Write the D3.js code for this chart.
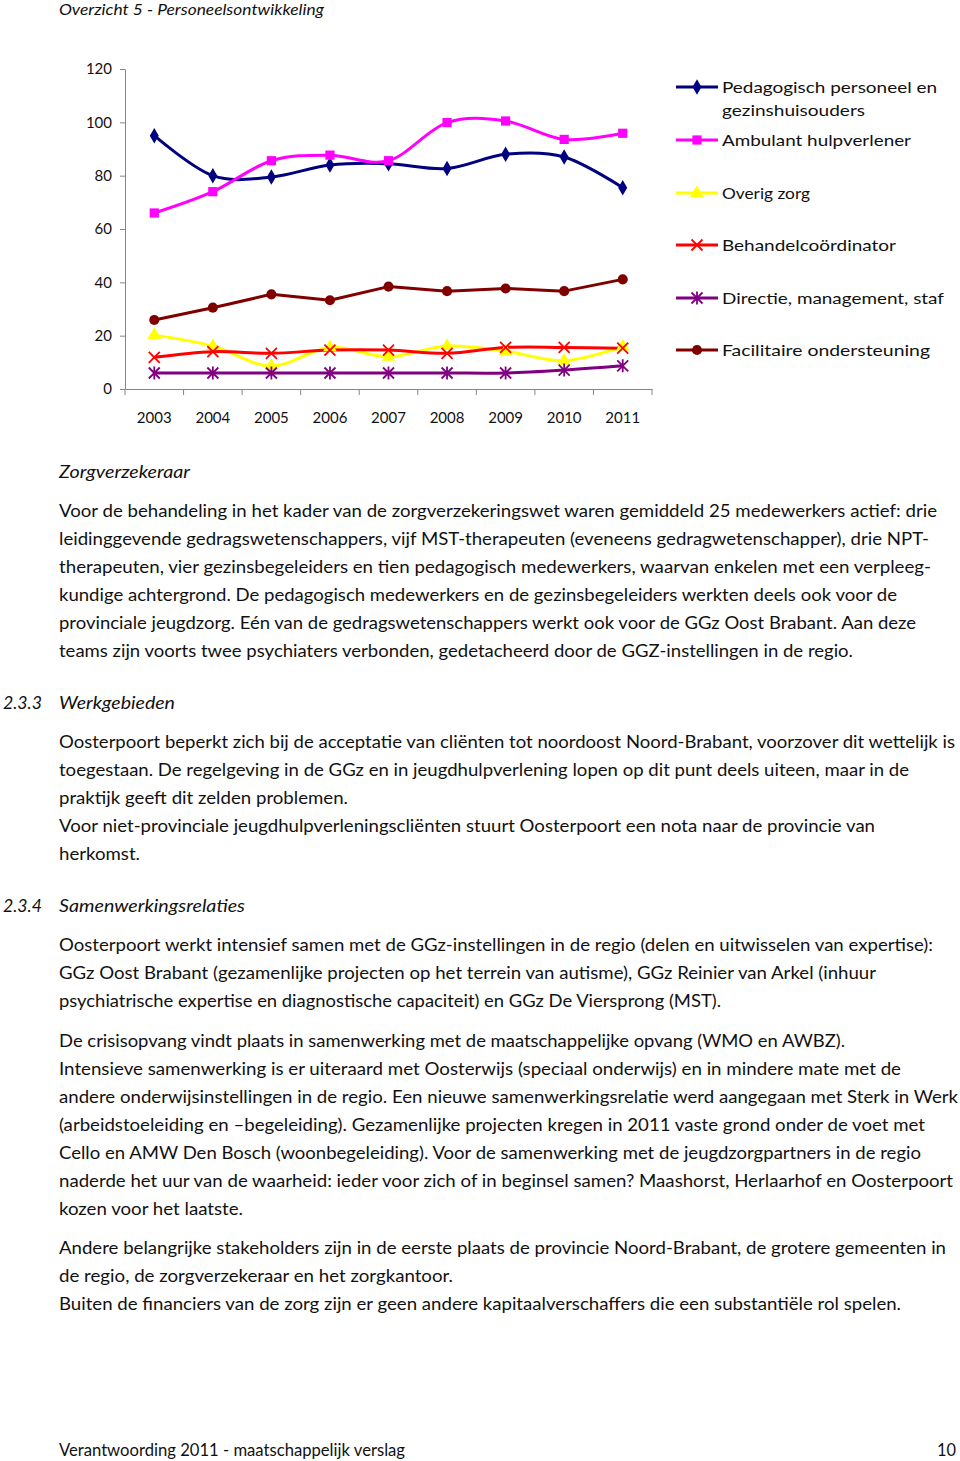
<!DOCTYPE html>
<html><head><meta charset="utf-8">
<script src="https://cdn.jsdelivr.net/npm/d3@7/dist/d3.min.js"></script>
<style>
body{margin:0;background:#fff}
svg{display:block}
text{font-family:Lato,"Open Sans","Noto Sans",sans-serif;fill:#111}
</style>
</head><body>
<svg id="page" width="960" height="1461"></svg>
<script>
// ---------- chart data ----------
const years = ["2003","2004","2005","2006","2007","2008","2009","2010","2011"];
const seriesNames = ["Pedagogisch personeel en gezinshuisouders","Ambulant hulpverlener","Overig zorg","Behandelcoördinator","Directie, management, staf","Facilitaire ondersteuning"];
const pedagogisch = [95, 80, 79.5, 84, 84.5, 82.7, 88, 87, 75.5];
const ambulant    = [66, 74, 85.6, 87.7, 85.6, 99.9, 100.5, 93.6, 95.9];
const overig      = [20.2, 16.1, 8.6, 15.6, 12.1, 16.1, 14.2, 10.6, 15.9];
const behandel    = [11.9, 14, 13.4, 14.6, 14.6, 13.4, 15.6, 15.6, 15.3];
const directie    = [6, 6, 6, 6, 6, 6, 6, 7.1, 8.7];
const facilitaire = [25.9, 30.5, 35.5, 33.3, 38.4, 36.7, 37.7, 36.7, 41.1];
const yTicks = [0, 20, 40, 60, 80, 100, 120];
const legendLines = [["Pedagogisch personeel en","gezinshuisouders"],["Ambulant hulpverlener"],["Overig zorg"],["Behandelcoördinator"],["Directie, management, staf"],["Facilitaire ondersteuning"]];

// ---------- page text ----------
const headerText = "Overzicht 5 - Personeelsontwikkeling";
const para1Title = "Zorgverzekeraar";
const para1 = [
 "Voor de behandeling in het kader van de zorgverzekeringswet waren gemiddeld 25 medewerkers actief: drie",
 "leidinggevende gedragswetenschappers, vijf MST-therapeuten (eveneens gedragwetenschapper), drie NPT-",
 "therapeuten, vier gezinsbegeleiders en tien pedagogisch medewerkers, waarvan enkelen met een verpleeg-",
 "kundige achtergrond. De pedagogisch medewerkers en de gezinsbegeleiders werkten deels ook voor de",
 "provinciale jeugdzorg. Eén van de gedragswetenschappers werkt ook voor de GGz Oost Brabant. Aan deze",
 "teams zijn voorts twee psychiaters verbonden, gedetacheerd door de GGZ-instellingen in de regio."
];
const sec1Num = "2.3.3", sec1Title = "Werkgebieden";
const para2 = [
 "Oosterpoort beperkt zich bij de acceptatie van cliënten tot noordoost Noord-Brabant, voorzover dit wettelijk is",
 "toegestaan. De regelgeving in de GGz en in jeugdhulpverlening lopen op dit punt deels uiteen, maar in de",
 "praktijk geeft dit zelden problemen.",
 "Voor niet-provinciale jeugdhulpverleningscliënten stuurt Oosterpoort een nota naar de provincie van",
 "herkomst."
];
const sec2Num = "2.3.4", sec2Title = "Samenwerkingsrelaties";
const para3 = [
 "Oosterpoort werkt intensief samen met de GGz-instellingen in de regio (delen en uitwisselen van expertise):",
 "GGz Oost Brabant (gezamenlijke projecten op het terrein van autisme), GGz Reinier van Arkel (inhuur",
 "psychiatrische expertise en diagnostische capaciteit) en GGz De Viersprong (MST).",
 "De crisisopvang vindt plaats in samenwerking met de maatschappelijke opvang (WMO en AWBZ).",
 "Intensieve samenwerking is er uiteraard met Oosterwijs (speciaal onderwijs) en in mindere mate met de",
 "andere onderwijsinstellingen in de regio. Een nieuwe samenwerkingsrelatie werd aangegaan met Sterk in Werk",
 "(arbeidstoeleiding en \u2013begeleiding). Gezamenlijke projecten kregen in 2011 vaste grond onder de voet met",
 "Cello en AMW Den Bosch (woonbegeleiding). Voor de samenwerking met de jeugdzorgpartners in de regio",
 "naderde het uur van de waarheid: ieder voor zich of in beginsel samen? Maashorst, Herlaarhof en Oosterpoort",
 "kozen voor het laatste.",
 "Andere belangrijke stakeholders zijn in de eerste plaats de provincie Noord-Brabant, de grotere gemeenten in",
 "de regio, de zorgverzekeraar en het zorgkantoor.",
 "Buiten de financiers van de zorg zijn er geen andere kapitaalverschaffers die een substantiële rol spelen."
];
const footerText = "Verantwoording 2011 - maatschappelijk verslag", pageNum = "10";

// ---------- layout (page geometry) ----------
const svg = d3.select("#page");
svg.append("rect").attr("width",960).attr("height",1461).attr("fill","#fff");

function fitText(sel, txt, x, y, right, opts={}) {
  const t = sel.append("text").attr("x", x).attr("y", y).text(txt)
    .style("font-size", (opts.size||17)+"px");
  if (opts.italic) t.style("font-style","italic");
  if (opts.anchor) t.attr("text-anchor", opts.anchor);
  if (right != null) t.attr("textLength", right - x).attr("lengthAdjust","spacingAndGlyphs");
  return t;
}

// header
fitText(svg, headerText, 59, 15, 324, {italic:true, size:16});

// ---------- chart ----------
const x = d3.scaleBand().domain(years).range([125, 652]);
const y = d3.scaleLinear().domain([0, 120]).range([389, 69]);
const cx = d => x(d) + x.bandwidth()/2;
const axisColor = "#868686";

const g = svg.append("g");
const yAxis = g.append("g").attr("transform","translate(125,0)")
  .call(d3.axisLeft(y).tickValues(yTicks).tickSize(5).tickSizeOuter(0).tickPadding(8));
yAxis.selectAll("path,line").attr("stroke", axisColor);
yAxis.selectAll("text").style("font-size","15px").style("font-family","Lato, sans-serif").attr("fill","#111");

const xAxis = g.append("g").attr("transform","translate(0,389)")
  .call(d3.axisBottom(x).tickSize(0).tickSizeOuter(0).tickPadding(23));
xAxis.select("path").attr("stroke", axisColor);
xAxis.selectAll("text").style("font-size","15px").style("font-family","Lato, sans-serif").attr("fill","#111");
// boundary tick marks
const bounds = years.map(d => x(d)).concat([x.range()[1]]);
g.selectAll("line.bt").data(bounds).join("line")
  .attr("x1", d=>d).attr("x2", d=>d).attr("y1", y(0)).attr("y2", y(0)+6)
  .attr("stroke", axisColor);

const series = [
  {name: seriesNames[0], values: pedagogisch, color:"#000080", marker:"diamond", curve:true},
  {name: seriesNames[1], values: ambulant,    color:"#FF00FF", marker:"square",  curve:true},
  {name: seriesNames[2], values: overig,      color:"#FFFF00", marker:"triangle",curve:true},
  {name: seriesNames[3], values: behandel,    color:"#FF0000", marker:"x",       curve:true},
  {name: seriesNames[4], values: directie,    color:"#800080", marker:"star",    curve:true},
  {name: seriesNames[5], values: facilitaire, color:"#800000", marker:"circle",  curve:false}
];

function drawMarker(sel, type, color, px, py) {
  if (type === "diamond") {
    sel.append("path").attr("d", d3.symbol(d3.symbolDiamond, 70)()).attr("transform",`translate(${px},${py})`).attr("fill",color);
  } else if (type === "square") {
    sel.append("path").attr("d", d3.symbol(d3.symbolSquare, 85)()).attr("transform",`translate(${px},${py})`).attr("fill",color);
  } else if (type === "triangle") {
    sel.append("path").attr("d", d3.symbol(d3.symbolTriangle, 80)()).attr("transform",`translate(${px},${py})`).attr("fill",color);
  } else if (type === "circle") {
    sel.append("path").attr("d", d3.symbol(d3.symbolCircle, 80)()).attr("transform",`translate(${px},${py})`).attr("fill",color);
  } else if (type === "x") {
    const s = 5.5;
    sel.append("path").attr("d",`M${-s},${-s}L${s},${s}M${-s},${s}L${s},${-s}`)
      .attr("transform",`translate(${px},${py})`).attr("stroke",color).attr("stroke-width",1.8).attr("fill","none");
  } else if (type === "star") {
    const s = 5.5;
    sel.append("path").attr("d",`M${-s},${-s}L${s},${s}M${-s},${s}L${s},${-s}M0,${-s-1}L0,${s+1}`)
      .attr("transform",`translate(${px},${py})`).attr("stroke",color).attr("stroke-width",1.8).attr("fill","none");
  }
}

const plot = g.append("g");
series.forEach(s => {
  const line = d3.line().x((v,i)=>cx(years[i])).y(v=>y(v))
    .curve(s.curve ? d3.curveCardinal.tension(0) : d3.curveLinear);
  plot.append("path").attr("d", line(s.values)).attr("fill","none")
    .attr("stroke", s.color).attr("stroke-width", 3).attr("stroke-linejoin","round");
});
series.forEach(s => {
  const mg = plot.append("g");
  s.values.forEach((v,i) => drawMarker(mg, s.marker, s.color, cx(years[i]), y(v)));
});

// legend
const legendY = [87, 140, 193, 245, 298, 350];
const legendRight = [[937, 865], [911], [810], [896], [944], [930]];
const lg = svg.append("g");
series.forEach((s, i) => {
  const ly = legendY[i];
  lg.append("line").attr("x1",676).attr("x2",718).attr("y1",ly).attr("y2",ly)
    .attr("stroke", s.color).attr("stroke-width",3);
  drawMarker(lg, s.marker, s.color, 697, ly);
  legendLines[i].forEach((t, j) => {
    fitText(lg, t, 722, ly + 5.5 + j*23, legendRight[i][j], {size:15});
  });
});

// ---------- body text ----------
fitText(svg, para1Title, 59, 478, 190, {italic:true});
const p1Right = [937, 929, 931, 897, 916, 853];
para1.forEach((t,i) => fitText(svg, t, 59, 517 + i*28, p1Right[i]));

fitText(svg, sec1Num, 3, 709, 42, {italic:true});
fitText(svg, sec1Title, 59, 709, 175, {italic:true});
const p2Right = [955, 909, 348, 875, 140];
const p2Y = [748, 776, 804, 832, 860];
para2.forEach((t,i) => fitText(svg, t, 59, p2Y[i], p2Right[i]));

fitText(svg, sec2Num, 3, 912, 42, {italic:true});
fitText(svg, sec2Title, 59, 912, 245, {italic:true});
const p3Right = [933, 876, 721, 845, 901, 958, 925, 921, 953, 243, 946, 453, 901];
const p3Y = [951, 979, 1007, 1047, 1075, 1103, 1131, 1159, 1187, 1215, 1254, 1282, 1310];
para3.forEach((t,i) => fitText(svg, t, 59, p3Y[i], p3Right[i]));

fitText(svg, footerText, 59, 1456, 405);
fitText(svg, pageNum, 937, 1456, 956);
</script>
</body></html>
